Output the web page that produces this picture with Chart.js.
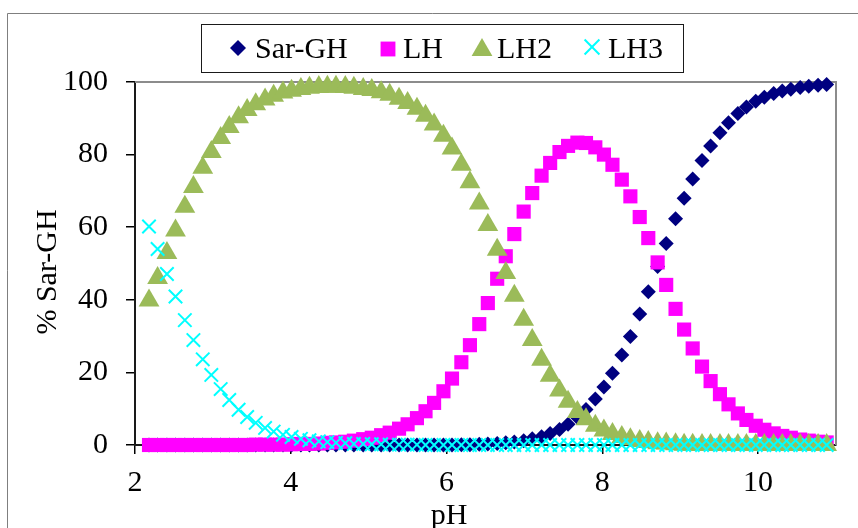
<!DOCTYPE html>
<html>
<head>
<meta charset="utf-8">
<title>Sar-GH species distribution</title>
<style>
  html, body { margin: 0; padding: 0; background: #fff; }
  #wrap { width: 858px; height: 528px; }
</style>
</head>
<body>
<div id="wrap"><canvas id="speciesChart" width="858" height="528"></canvas></div>
<script src="https://cdn.jsdelivr.net/npm/chart.js@4/dist/chart.umd.min.js"></script>
<script>
const phValues = [2.18, 2.29, 2.41, 2.52, 2.64, 2.75, 2.87, 2.98, 3.10, 3.21,
  3.33, 3.44, 3.55, 3.67, 3.78, 3.90, 4.01, 4.13, 4.24, 4.36,
  4.47, 4.58, 4.70, 4.81, 4.93, 5.04, 5.16, 5.27, 5.39, 5.50,
  5.62, 5.73, 5.84, 5.96, 6.07, 6.19, 6.30, 6.42, 6.53, 6.65,
  6.76, 6.87, 6.99, 7.10, 7.22, 7.33, 7.45, 7.56, 7.68, 7.79,
  7.91, 8.02, 8.13, 8.25, 8.36, 8.48, 8.59, 8.71, 8.82, 8.94,
  9.05, 9.16, 9.28, 9.39, 9.51, 9.62, 9.74, 9.85, 9.97, 10.08,
  10.20, 10.31, 10.42, 10.54, 10.65, 10.77, 10.88];

const sarGH = [0, 0, 0, 0, 0, 0, 0, 0, 0, 0,
  0, 0, 0, 0, 0, 0, 0, 0, 0, 0,
  0, 0, 0, 0, 0, 0, 0, 0, 0, 0,
  0, 0, 0, 0, 0, 0.1, 0.1, 0.2, 0.3, 0.4,
  0.6, 0.8, 1.2, 1.7, 2.3, 3.2, 4.3, 5.7, 7.6, 9.8,
  12.7, 16.0, 19.8, 24.8, 29.9, 36.1, 42.2, 49.2, 55.5, 62.3,
  68.0, 73.3, 78.4, 82.4, 86.0, 88.8, 91.3, 93.1, 94.7, 95.8,
  96.8, 97.5, 98.0, 98.5, 98.8, 99.1, 99.3];

const lh = [0, 0, 0, 0, 0, 0, 0, 0, 0, 0,
  0, 0, 0.1, 0.1, 0.1, 0.1, 0.2, 0.3, 0.3, 0.4,
  0.6, 0.7, 0.9, 1.2, 1.6, 2.0, 2.7, 3.4, 4.5, 5.7,
  7.4, 9.3, 11.6, 14.8, 18.3, 22.8, 27.5, 33.3, 39.1, 45.8,
  52.0, 58.1, 64.3, 69.4, 74.2, 77.7, 80.7, 82.4, 83.3, 83.2,
  82.0, 80.0, 77.2, 73.1, 68.5, 62.8, 57.0, 50.3, 44.1, 37.5,
  31.8, 26.6, 21.6, 17.6, 14.0, 11.2, 8.7, 6.9, 5.3, 4.2,
  3.2, 2.5, 2.0, 1.5, 1.2, 0.9, 0.7];

const lh2 = [39.8, 46.0, 52.9, 59.1, 65.6, 71.1, 76.4, 80.7, 84.6, 87.6,
  90.3, 92.3, 93.9, 95.2, 96.2, 97.1, 97.6, 98.1, 98.4, 98.6,
  98.7, 98.7, 98.6, 98.4, 98.1, 97.8, 97.2, 96.5, 95.4, 94.2,
  92.6, 90.7, 88.3, 85.2, 81.7, 77.2, 72.4, 66.5, 60.6, 53.8,
  47.4, 41.1, 34.5, 28.9, 23.5, 19.1, 15.0, 11.9, 9.1, 7.1,
  5.3, 4.0, 3.0, 2.2, 1.6, 1.1, 0.8, 0.5, 0.4, 0.2,
  0.1, 0.1, 0, 0, 0, 0, 0, 0, 0, 0,
  0, 0, 0, 0, 0, 0, 0];

const lh3 = [60.2, 54.0, 47.1, 40.9, 34.4, 28.9, 23.6, 19.3, 15.4, 12.4,
  9.7, 7.7, 6.1, 4.7, 3.7, 2.8, 2.2, 1.7, 1.3, 1.0,
  0.8, 0.6, 0.5, 0.3, 0.3, 0.2, 0.2, 0.1, 0.1, 0.1,
  0.1, 0, 0, 0, 0, 0, 0, 0, 0, 0,
  0, 0, 0, 0, 0, 0, 0, 0, 0, 0,
  0, 0, 0, 0, 0, 0, 0, 0, 0, 0,
  0, 0, 0, 0, 0, 0, 0, 0, 0, 0,
  0, 0, 0, 0, 0, 0, 0];

const seriesNames = ['Sar-GH', 'LH', 'LH2', 'LH3'];
const xTickValues = [2, 4, 6, 8, 10];
const yTickValues = [0, 20, 40, 60, 80, 100];

(function () {
    const SERIF = '"Liberation Serif", "Times New Roman", serif';

    function toPoints(values) {
        return phValues.map((x, i) => ({ x: x, y: values[i] }));
    }

    // legend look: marker x, text x, marker centre y, radius
    const legendItems = [
        { markX: 238, textX: 255, markY: 48, radius: 8 },
        { markX: 388, textX: 403, markY: 49, radius: 10.5 },
        { markX: 482, textX: 497, markY: 50, radius: 12 },
        { markX: 592, textX: 608, markY: 47, radius: 10.5 }
    ];

    const framePlugin = {
        id: 'frame',
        beforeDatasetsDraw(chart) {
            const { ctx, chartArea: a } = chart;
            ctx.save();
            ctx.strokeStyle = '#8c8c8c';
            ctx.lineWidth = 2;
            ctx.beginPath();
            ctx.moveTo(a.left, a.top);
            ctx.lineTo(a.right, a.top);
            ctx.lineTo(a.right, a.bottom);
            ctx.stroke();
            ctx.restore();
        },
        afterDraw(chart) {
            const ctx = chart.ctx;
            ctx.save();
            // outer chart border (runs off the right and bottom)
            ctx.strokeStyle = '#7f7f7f';
            ctx.lineWidth = 1;
            ctx.beginPath();
            ctx.moveTo(7.5, 528);
            ctx.lineTo(7.5, 13.5);
            ctx.lineTo(858, 13.5);
            ctx.stroke();

            // axis titles
            ctx.fillStyle = '#000';
            ctx.font = '30px ' + SERIF;
            ctx.textAlign = 'center';
            ctx.textBaseline = 'alphabetic';
            ctx.fillText('pH', 449, 524);
            ctx.translate(56, 272);
            ctx.rotate(-Math.PI / 2);
            ctx.fillText('% Sar-GH', 0, 0);
            ctx.restore();

            // boxed legend
            ctx.save();
            ctx.strokeStyle = '#1a1a1a';
            ctx.lineWidth = 1;
            ctx.strokeRect(201.5, 24.5, 482, 48);
            ctx.font = '30px ' + SERIF;
            ctx.textAlign = 'left';
            ctx.textBaseline = 'alphabetic';
            chart.data.datasets.forEach((ds, i) => {
                const item = legendItems[i];
                ctx.fillStyle = ds.backgroundColor;
                ctx.strokeStyle = ds.borderColor;
                ctx.lineWidth = ds.borderWidth;
                Chart.helpers.drawPoint(ctx, {
                    pointStyle: ds.pointStyle,
                    radius: item.radius,
                    rotation: 0,
                    borderWidth: ds.borderWidth
                }, item.markX, item.markY);
                ctx.fillStyle = '#000';
                ctx.fillText(ds.label, item.textX, 58);
            });
            ctx.restore();
        }
    };

    const tickFont = { family: SERIF, size: 30 };

    new Chart(document.getElementById('speciesChart'), {
        type: 'scatter',
        data: {
            datasets: [{
                label: seriesNames[0],
                data: toPoints(sarGH),
                pointStyle: 'rectRot',
                pointRadius: 7.5,
                backgroundColor: '#000080',
                borderColor: '#000080',
                borderWidth: 0,
                order: 4
            }, {
                label: seriesNames[1],
                data: toPoints(lh),
                pointStyle: 'rect',
                pointRadius: 10,
                backgroundColor: '#ff00ff',
                borderColor: '#ff00ff',
                borderWidth: 0,
                order: 3
            }, {
                label: seriesNames[2],
                data: toPoints(lh2),
                pointStyle: 'triangle',
                pointRadius: 12,
                backgroundColor: '#9bbb59',
                borderColor: '#9bbb59',
                borderWidth: 0,
                order: 2
            }, {
                label: seriesNames[3],
                data: toPoints(lh3),
                pointStyle: 'crossRot',
                pointRadius: 9.5,
                backgroundColor: '#00ffff',
                borderColor: '#00ffff',
                borderWidth: 2,
                order: 1
            }]
        },
        options: {
            responsive: false,
            animation: false,
            devicePixelRatio: 1,
            events: [],
            clip: false,
            layout: { padding: { left: 0, top: 82, right: 22, bottom: 0 } },
            plugins: {
                legend: { display: false },
                tooltip: { enabled: false }
            },
            scales: {
                x: {
                    type: 'linear',
                    min: 2,
                    max: 11,
                    afterBuildTicks: s => { s.ticks = xTickValues.map(v => ({ value: v })); },
                    afterFit: s => { s.height = 83; },
                    grid: { drawOnChartArea: false, drawTicks: true, tickLength: 9, color: '#000', lineWidth: 1.5 },
                    border: { display: true, color: '#1a1a1a', width: 2 },
                    ticks: { font: tickFont, color: '#000', padding: 11, maxRotation: 0 }
                },
                y: {
                    min: 0,
                    max: 100,
                    afterBuildTicks: s => { s.ticks = yTickValues.map(v => ({ value: v })); },
                    afterFit: s => { s.width = 135; },
                    grid: { drawOnChartArea: false, drawTicks: true, tickLength: 9, color: '#000', lineWidth: 1.5 },
                    border: { display: true, color: '#1a1a1a', width: 2 },
                    ticks: { font: tickFont, color: '#000', padding: 18 }
                }
            }
        },
        plugins: [framePlugin]
    });
})();
</script>
</body>
</html>
